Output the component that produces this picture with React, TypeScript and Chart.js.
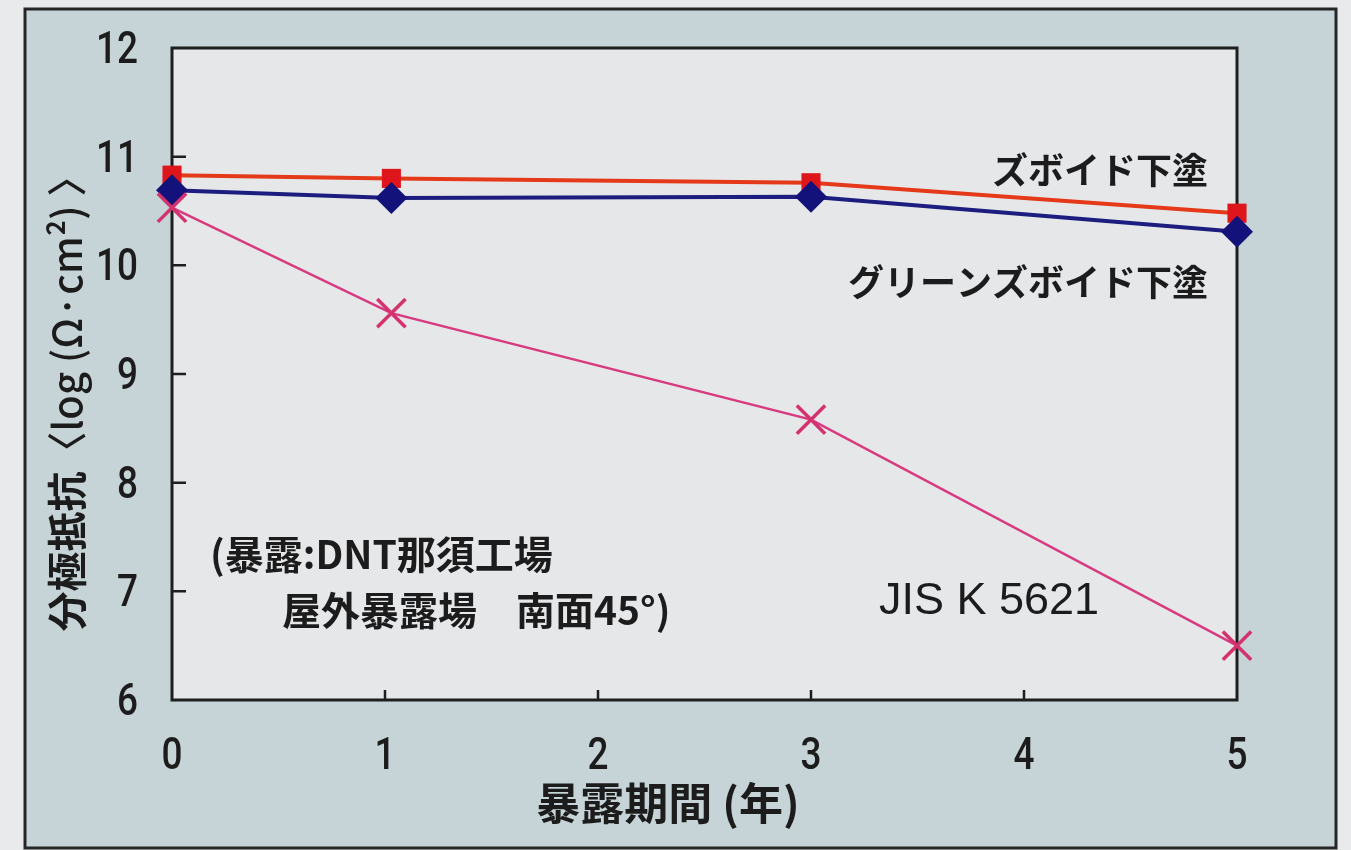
import { useEffect, useRef } from "react";
import { Chart, registerables } from "chart.js";

Chart.register(...registerables);

// ---- data ----
const exposureYears = [0, 1.03, 3, 5];
const zuboidValues = [10.83, 10.8, 10.76, 10.48];
const greenZuboidValues = [10.69, 10.62, 10.63, 10.31];
const jisValues = [10.53, 9.56, 8.58, 6.5];
const xTickValues = [0, 1, 2, 3, 4, 5];
const yTickValues = [6, 7, 8, 9, 10, 11, 12];

const seriesNames = ["ズボイド下塗", "グリーンズボイド下塗", "JIS K 5621"];
const xTitle = "暴露期間 (年)";
const yTitleKanji = "分極抵抗";
const yTitleRest = "〈log (Ω·cm²) 〉";
const noteLine1 = "(暴露:DNT那須工場";
const noteLine2 = "屋外暴露場　南面45°)";

const JP = '"Noto Sans CJK JP", "Noto Sans", sans-serif';
const NUM = 'Roboto, "Liberation Sans", sans-serif';
const LAT = '"Liberation Sans", Arial, sans-serif';

const drawNum = (ctx: any, text: string, x: number, y: number, align: "center" | "right") => {
  const sx = 0.84;
  ctx.save();
  ctx.translate(x, y);
  ctx.scale(sx, 1);
  ctx.textAlign = align;
  ctx.fillText(text, 0, 0);
  ctx.restore();
};

const decoPlugin = {
  id: "deco",
  beforeDraw(chart: any) {
    const { ctx, chartArea: a, width, height } = chart;
    ctx.save();
    ctx.fillStyle = "#e9eaeb";
    ctx.fillRect(0, 0, width, height);
    ctx.fillStyle = "#c6d4d8";
    ctx.fillRect(25, 9, 1311, 839);
    ctx.strokeStyle = "#262626";
    ctx.lineWidth = 3;
    ctx.strokeRect(25, 9, 1311, 839);
    ctx.fillStyle = "#e6e7e9";
    ctx.fillRect(a.left, a.top, a.right - a.left, a.bottom - a.top);
    ctx.restore();
  },
  beforeDatasetsDraw(chart: any) {
    const { ctx, chartArea: a, scales } = chart;
    ctx.save();
    ctx.strokeStyle = "#1e1e1e";
    ctx.lineWidth = 3;
    ctx.strokeRect(a.left, a.top, a.right - a.left, a.bottom - a.top);
    ctx.lineWidth = 2.5;
    ctx.beginPath();
    for (let i = 1; i < yTickValues.length - 1; i++) {
      const y = scales.y.getPixelForValue(yTickValues[i]);
      ctx.moveTo(a.left, y);
      ctx.lineTo(a.left + 14, y);
    }
    for (let i = 1; i < xTickValues.length - 1; i++) {
      const x = scales.x.getPixelForValue(xTickValues[i]);
      ctx.moveTo(x, a.bottom);
      ctx.lineTo(x, a.bottom - 10);
    }
    ctx.stroke();

    // tick labels, positioned by the chart's scales
    ctx.fillStyle = "#1c1c1c";
    ctx.font = `500 44px ${NUM}`;
    ctx.textBaseline = "middle";
    yTickValues.forEach((v) => {
      drawNum(ctx, String(v), a.left - 34, scales.y.getPixelForValue(v) + 4, "right");
    });
    xTickValues.forEach((v) => {
      drawNum(ctx, String(v), scales.x.getPixelForValue(v), a.bottom + 58, "center");
    });
    ctx.restore();
  },
  afterDraw(chart: any) {
    const { ctx } = chart;
    ctx.save();
    ctx.fillStyle = "#1c1c1c";
    ctx.textBaseline = "middle";

    ctx.font = `bold 36px ${JP}`;
    ctx.textAlign = "right";
    ctx.fillText(seriesNames[0], 1208, 170);
    ctx.fillText(seriesNames[1], 1208, 282);

    ctx.font = `45px ${LAT}`;
    ctx.textAlign = "left";
    ctx.fillText(seriesNames[2], 879, 602);

    ctx.font = `bold 39px ${JP}`;
    ctx.fillText(noteLine1, 210, 554);
    ctx.fillText(noteLine2, 282, 610);

    ctx.font = `bold 44px ${JP}`;
    ctx.textAlign = "center";
    ctx.fillText(xTitle, 668, 803);

    ctx.translate(67, 394);
    ctx.rotate(-Math.PI / 2);
    const kFont = `bold 40px ${JP}`;
    const rFont = `500 40px ${JP}`;
    ctx.font = kFont;
    const wk = ctx.measureText(yTitleKanji).width;
    ctx.font = rFont;
    const wr = ctx.measureText(yTitleRest).width;
    const start = -(wk + wr) / 2;
    ctx.textAlign = "left";
    ctx.font = kFont;
    ctx.fillText(yTitleKanji, start, 0);
    ctx.font = rFont;
    ctx.fillText(yTitleRest, start + wk, 0);
    ctx.restore();
  },
};

export default function App() {
  const ref = useRef<HTMLCanvasElement | null>(null);

  useEffect(() => {
    const canvas = ref.current;
    if (!canvas) return;
    const toPts = (ys: number[]) => ys.map((y, i) => ({ x: exposureYears[i], y }));
    const chart = new Chart(canvas, {
      type: "line",
      data: {
        datasets: [
          {
            label: seriesNames[2],
            data: toPts(jisValues),
            borderColor: "#d83a80",
            backgroundColor: "#d83a80",
            borderWidth: 2.5,
            pointStyle: "crossRot",
            pointRadius: 20,
            pointBorderWidth: 3.5,
            pointBorderColor: "#d3326f",
            clip: false,
          } as any,
          {
            label: seriesNames[1],
            data: toPts(greenZuboidValues),
            borderColor: "#1d1d80",
            backgroundColor: "#12127a",
            borderWidth: 4,
            pointStyle: "rectRot",
            pointRadius: 16,
            pointBorderWidth: 0,
            clip: false,
          } as any,
          {
            label: seriesNames[0],
            data: toPts(zuboidValues),
            borderColor: "#e43a1a",
            backgroundColor: "#de161c",
            borderWidth: 4,
            pointStyle: "rect",
            pointRadius: 13.5,
            pointBorderWidth: 0,
            clip: false,
          } as any,
        ],
      },
      options: {
        animation: false,
        responsive: false,
        layout: { padding: { left: 0, top: 48, right: 114, bottom: 0 } },
        plugins: { legend: { display: false }, tooltip: { enabled: false } },
        scales: {
          x: {
            type: "linear",
            min: xTickValues[0],
            max: xTickValues[xTickValues.length - 1],
            afterFit: (s: any) => {
              s.height = 150;
            },
            grid: { display: false, drawTicks: false },
            border: { display: false },
            ticks: { display: false, stepSize: 1 },
          },
          y: {
            type: "linear",
            min: yTickValues[0],
            max: yTickValues[yTickValues.length - 1],
            afterFit: (s: any) => {
              s.width = 172;
            },
            grid: { display: false, drawTicks: false },
            border: { display: false },
            ticks: { display: false, stepSize: 1 },
          },
        },
      } as any,
      plugins: [decoPlugin],
    });
    return () => chart.destroy();
  }, []);

  return (
    <div style={{ position: "absolute", left: 0, top: 0, width: 1351, height: 850 }}>
      <canvas ref={ref} width={1351} height={850} style={{ display: "block", width: 1351, height: 850 }} />
    </div>
  );
}
